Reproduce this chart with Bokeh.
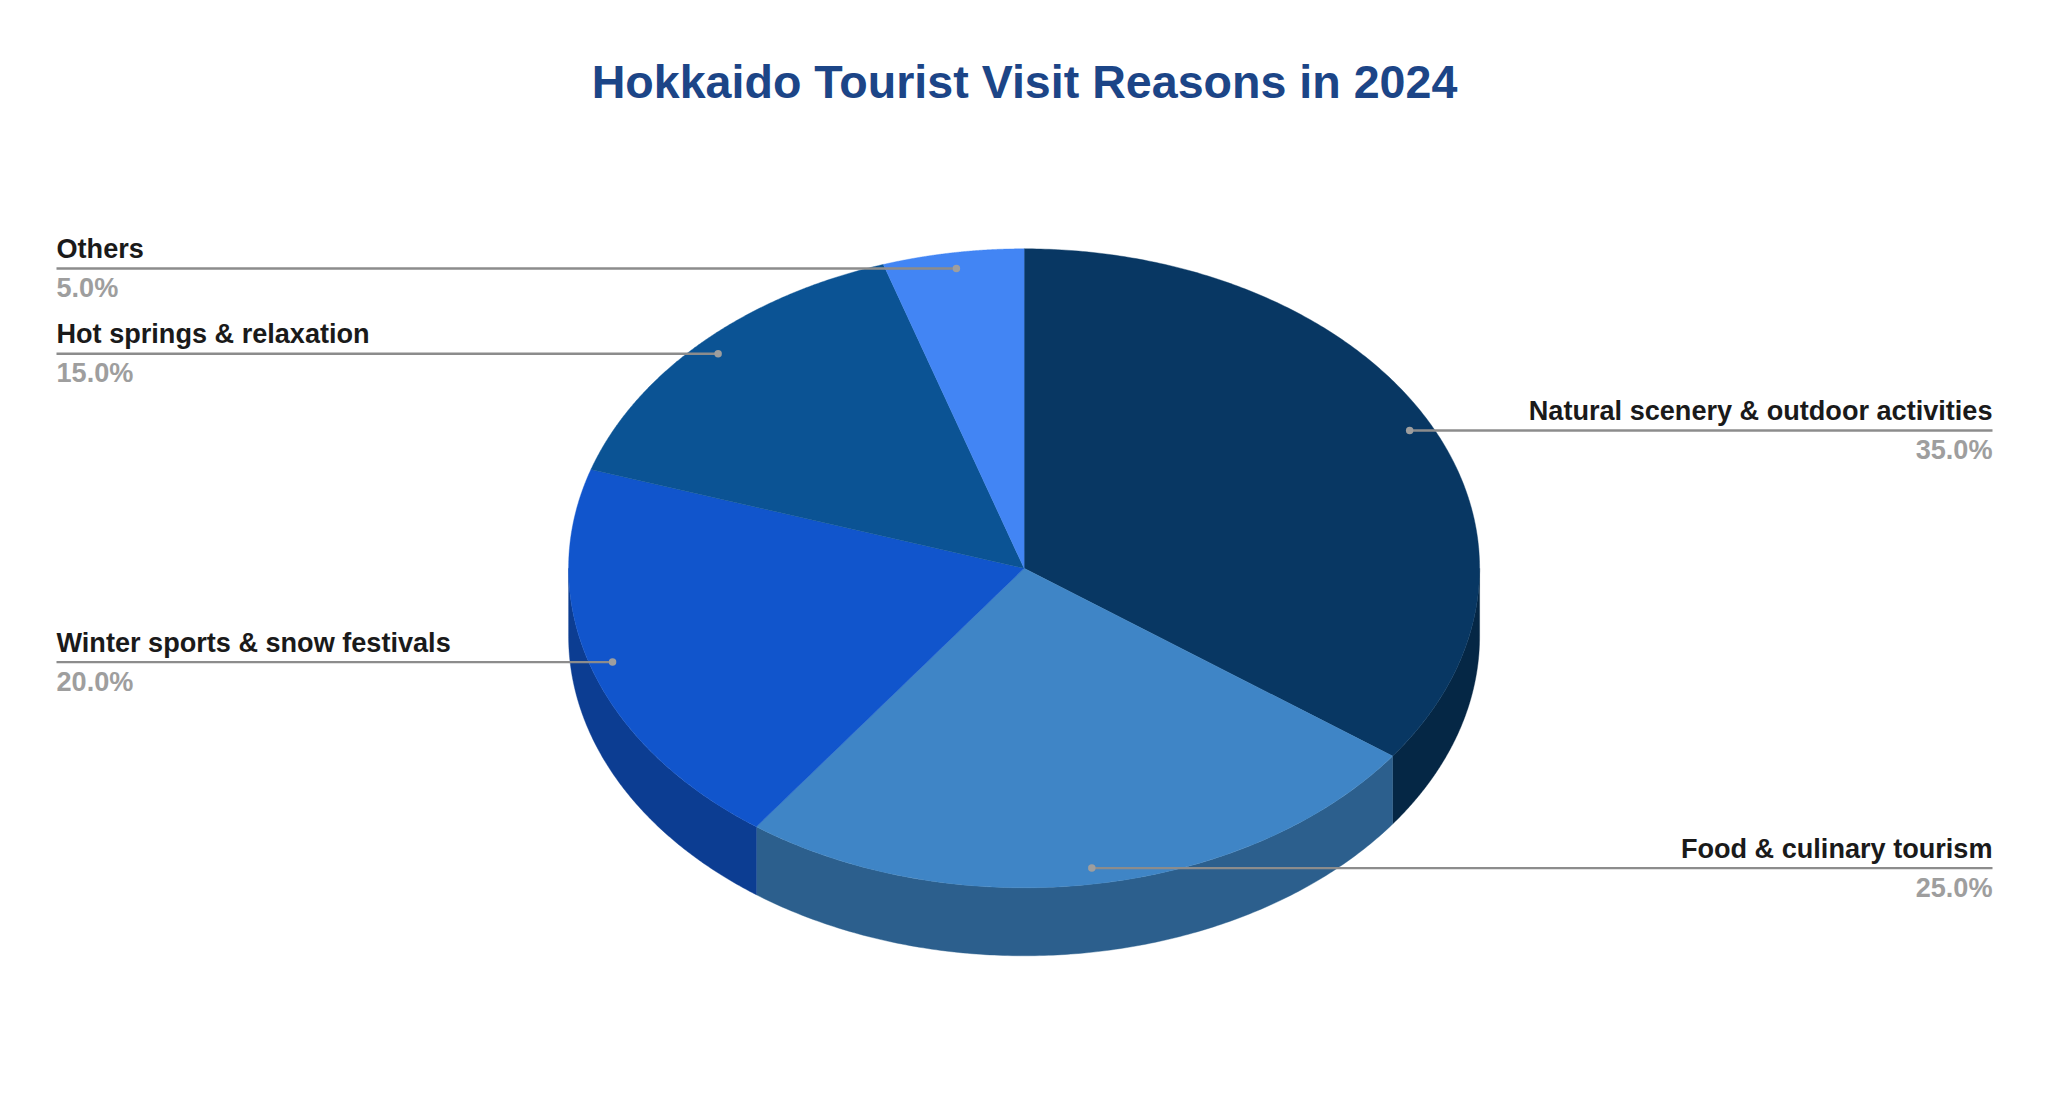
import numpy as np
from bokeh.plotting import figure
from bokeh.models import ColumnDataSource
from bokeh.embed import file_html
from bokeh.resources import INLINE
from bokeh.core.properties import value

categories = ["Natural scenery & outdoor activities", "Food & culinary tourism",
              "Winter sports & snow festivals", "Hot springs & relaxation", "Others"]
shares = [35.0, 25.0, 20.0, 15.0, 5.0]
top_colors = ["#083763", "#3F85C6", "#1155CC", "#0B5394", "#4285F4"]
side_colors = ["#052745", "#2C5F8D", "#0C3D92", "#083B6A", "#2F5FAE"]
title_text = "Hokkaido Tourist Visit Reasons in 2024"

# geometry of the tilted pie, in page pixels
CX, CY, RX, RY, DEPTH = 1023.6, 567.8, 455.5, 319.5, 68.0
LEFT_X, RIGHT_X = 56, 1992
TOP_BORDER = 112
LEFT_BORDER = 16
FONT = "Liberation Sans"

p = figure(width=2032, height=1098, output_backend="svg", toolbar_location=None,
           x_range=(LEFT_BORDER, 2032), y_range=(1098, TOP_BORDER),
           min_border_left=LEFT_BORDER, min_border_right=0, min_border_bottom=0, min_border_top=TOP_BORDER,
           outline_line_color=None, background_fill_color="white", border_fill_color="white",
           title=title_text)
p.axis.visible = False
p.grid.visible = False
p.title.align = "center"
p.title.text_color = "#1C4587"
p.title.text_font = FONT
p.title.text_font_style = "bold"
p.title.text_font_size = "46.6px"


def ell(t, dy=0.0):
    return CX + RX * np.sin(t), CY - RY * np.cos(t) + dy


edges = np.cumsum([0.0] + shares) / sum(shares) * 2 * np.pi

side_x, side_y, side_c, top_x, top_y, top_c = [], [], [], [], [], []
for i in range(len(shares)):
    a0, a1 = edges[i], edges[i + 1]
    s0, s1 = max(a0, np.pi / 2), min(a1, 3 * np.pi / 2)
    if s1 > s0:
        t = np.linspace(s0, s1, 160)
        x, y = ell(t)
        xb, yb = ell(t[::-1], DEPTH)
        side_x.append(np.r_[x, xb].tolist())
        side_y.append(np.r_[y, yb].tolist())
        side_c.append(side_colors[i])
    t = np.linspace(a0, a1, 240)
    x, y = ell(t)
    top_x.append(np.r_[CX, x].tolist())
    top_y.append(np.r_[CY, y].tolist())
    top_c.append(top_colors[i])

p.patches("x", "y", fill_color="c", line_color="c", line_width=0.4,
          source=ColumnDataSource(dict(x=side_x, y=side_y, c=side_c)))
p.patches("x", "y", fill_color="c", line_color="c", line_width=0.4,
          source=ColumnDataSource(dict(x=top_x, y=top_y, c=top_c)))

# leader lines and labels
mid = (edges[:-1] + edges[1:]) / 2
dx, dy = ell(mid)
dx = CX + (dx - CX) * 0.95
dy = CY + (dy - CY) * 0.95
is_right = np.sin(mid) > 0
end_x = np.where(is_right, RIGHT_X, LEFT_X)

p.segment(dx, dy, end_x, dy, line_color="#8C8C8C", line_width=2.4)
p.scatter(dx, dy, size=7.5, fill_color="#9E9E9E", line_color=None)

pct = [f"{v:.1f}%" for v in shares]
for side, align in ((True, "right"), (False, "left")):
    m = is_right == side
    src = ColumnDataSource(dict(
        x=end_x[m], yn=dy[m] - 19.8, yp=dy[m] + 19.2,
        n=[c for c, k in zip(categories, m) if k],
        v=[c for c, k in zip(pct, m) if k]))
    p.text("x", "yn", text="n", source=src, text_font=value(FONT), text_font_style="bold",
           text_font_size="27.1px", text_color="#1A1A1A", text_align=align, text_baseline="alphabetic")
    p.text("x", "yp", text="v", source=src, text_font=value(FONT), text_font_style="bold",
           text_font_size="27.1px", text_color="#9E9E9E", text_align=align, text_baseline="alphabetic")

open("out.html", "w").write(file_html(p, INLINE))
